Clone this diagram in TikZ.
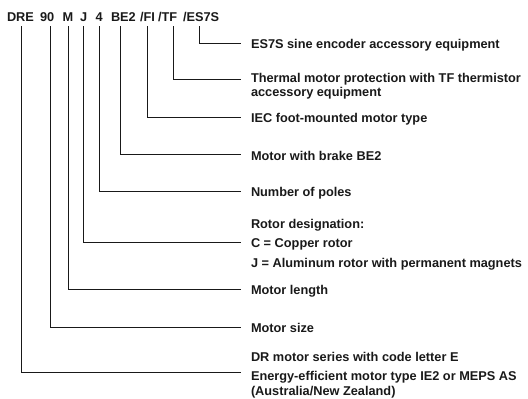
\documentclass[tikz,border=0pt]{standalone}
\usepackage{fontspec}
\setmainfont{Liberation Sans}
\begin{document}
\begin{tikzpicture}[x=1pt,y=-1pt,
  txt/.style={anchor=base west,inner sep=0pt,outer sep=0pt,font=\fontsize{12.75}{14}\selectfont\bfseries,text=black!90},
  lead/.style={line width=1pt,draw=black!90}]
\useasboundingbox (0,0) rectangle (528,399);
% header
\node[txt] (hDRE) at (7,21) {DRE};
\node[txt] (h90) at (40,21) {90};
\node[txt] (hM) at (62.5,21) {M};
\node[txt] (hJ) at (80,21) {J};
\node[txt] (h4) at (95.5,21) {4};
\node[txt] (hBE) at (111,21) {BE2};
\node[txt] (hFI) at (140,21) {/FI};
\node[txt] (hTF) at (158,21) {/TF};
\node[txt] (hES) at (183,21) {/ES7S};
% tops of leaders
\coordinate (tDRE) at (21,26);
\coordinate (t90) at (50,26);
\coordinate (tM) at (68,26);
\coordinate (tJ) at (83,26);
\coordinate (t4) at (99,26);
\coordinate (tBE) at (120,26);
\coordinate (tFI) at (147,26);
\coordinate (tTF) at (173,26);
\coordinate (tES) at (199,26);
% ends of leaders
\coordinate (eES) at (241,43);
\coordinate (eTF) at (241,79);
\coordinate (eFI) at (241,117);
\coordinate (eBE) at (241,154);
\coordinate (e4) at (241,191);
\coordinate (eJ) at (241,242);
\coordinate (eM) at (241,289);
\coordinate (e90) at (241,327);
\coordinate (eDRE) at (241,372);
% labels
\node[txt] (lES) at (251,48) {ES7S sine encoder accessory equipment};
\node[txt] (lTF1) at (251,82) {Thermal motor protection with TF thermistor};
\node[txt] (lTF2) at (251,96) {accessory equipment};
\node[txt] (lFI) at (251,122) {IEC foot-mounted motor type};
\node[txt] (lBE) at (251,160) {Motor with brake BE2};
\node[txt] (l4) at (251,196) {Number of poles};
\node[txt] (lJ0) at (251,228) {Rotor designation:};
\node[txt] (lJ1) at (251,247) {C = Copper rotor};
\node[txt] (lJ2) at (251,267) {J = Aluminum rotor with permanent magnets};
\node[txt] (lM) at (251,294) {Motor length};
\node[txt] (l90) at (251,332) {Motor size};
\node[txt] (lDRE0) at (251,361) {DR motor series with code letter E};
\node[txt] (lDRE1) at (251,380) {Energy-efficient motor type IE2 or MEPS AS};
\node[txt] (lDRE2) at (251,395) {(Australia/New Zealand)};
% leaders
\draw[lead] (tES) |- (eES);
\draw[lead] (tTF) |- (eTF);
\draw[lead] (tFI) |- (eFI);
\draw[lead] (tBE) |- (eBE);
\draw[lead] (t4) |- (e4);
\draw[lead] (tJ) |- (eJ);
\draw[lead] (tM) |- (eM);
\draw[lead] (t90) |- (e90);
\draw[lead] (tDRE) |- (eDRE);
\end{tikzpicture}
\end{document}
